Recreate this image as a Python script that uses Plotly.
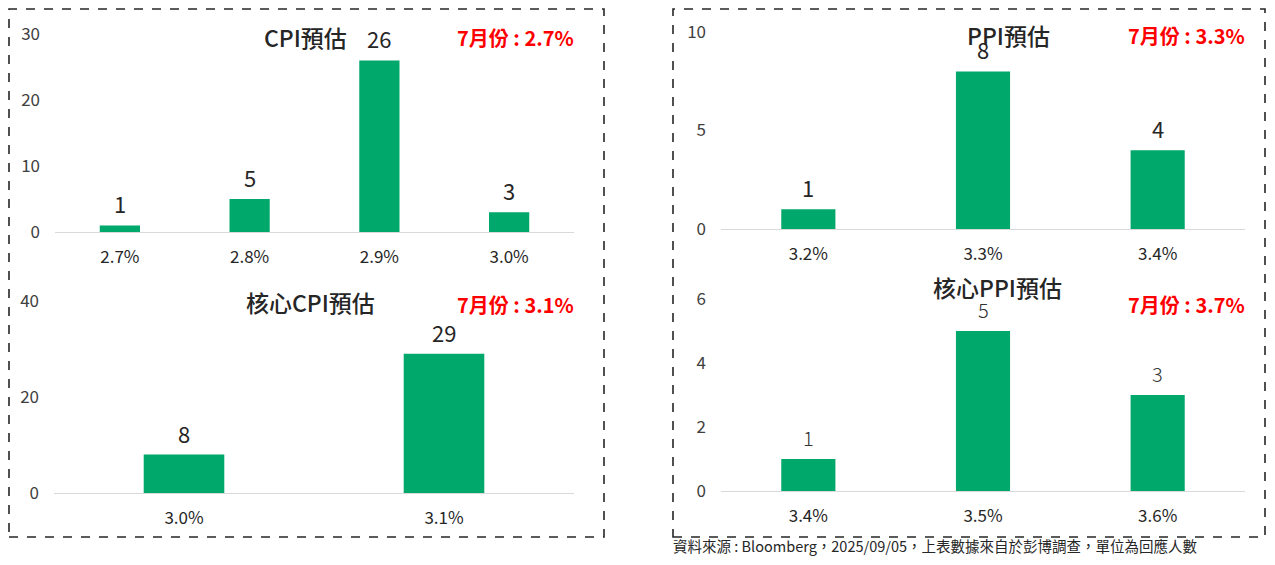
import plotly.graph_objects as go

# 資料
cpi_cats = ["2.7%", "2.8%", "2.9%", "3.0%"]
cpi_vals = [1, 5, 26, 3]
core_cpi_cats = ["3.0%", "3.1%"]
core_cpi_vals = [8, 29]
ppi_cats = ["3.2%", "3.3%", "3.4%"]
ppi_vals = [1, 8, 4]
core_ppi_cats = ["3.4%", "3.5%", "3.6%"]
core_ppi_vals = [1, 5, 3]

titles = ["CPI預估", "核心CPI預估", "PPI預估", "核心PPI預估"]
actuals = ["7月份 : 2.7%", "7月份 : 3.1%", "7月份 : 3.3%", "7月份 : 3.7%"]
source = "資料來源 : Bloomberg，2025/09/05，上表數據來自於彭博調查，單位為回應人數"

OFF = 8  # 頁面 body 的預設邊距
W, H = 1275 - 2 * OFF, 565 - 2 * OFF
GREEN = "#00A86B"
FONT = "Noto Sans CJK TC"


def px(x, y):
    return (x - OFF) / W, 1 - (y - OFF) / H


def xd(x0, x1):
    return [(x0 - OFF) / W, (x1 - OFF) / W]


def yd(top, bottom):
    return [1 - (bottom - OFF) / H, 1 - (top - OFF) / H]


fig = go.Figure()

dark = dict(size=22, color="#262626", family=FONT)
light = dict(size=20, color="#333333", family=FONT, weight=300)
panels = [
    # cats, vals, xaxis, yaxis, xdomain, ydomain, range top, dtick, label font
    (cpi_cats, cpi_vals, "x", "y", xd(55, 574), yd(34, 232), 30, 10, dark),
    (core_cpi_cats, core_cpi_vals, "x2", "y2", xd(54, 574), yd(301, 493), 40, 20, dark),
    (ppi_cats, ppi_vals, "x3", "y3", xd(721, 1245), yd(32, 229), 10, 5, dark),
    (core_ppi_cats, core_ppi_vals, "x4", "y4", xd(721, 1245), yd(299, 491), 6, 2, light),
]

layout_axes = {}
for i, (cats, vals, xa, ya, xdom, ydom, top, dt, lfont) in enumerate(panels):
    fig.add_trace(go.Bar(
        x=cats, y=vals, xaxis=xa, yaxis=ya,
        marker=dict(color=GREEN, line=dict(width=0)),
        showlegend=False, width=0.31, hoverinfo="x+y",
    ))
    # 數值標籤
    for c, v in zip(cats, vals):
        fig.add_annotation(x=c, y=v, xref=xa, yref=ya, text=str(v),
                           showarrow=False, yanchor="middle", yshift=22,
                           font=lfont)
    n = "" if i == 0 else str(i + 1)
    layout_axes["xaxis" + n] = dict(
        domain=xdom, anchor=ya, showgrid=False, showline=True,
        linecolor="#d9d9d9", linewidth=1, ticks="", ticklabelstandoff=10,
        tickfont=dict(size=17, color="#262626", family=FONT), fixedrange=True,
        automargin=False,
    )
    layout_axes["yaxis" + n] = dict(
        domain=ydom, anchor=xa, range=[0, top], dtick=dt, showgrid=False,
        zeroline=False, showline=False, ticks="", ticklabelstandoff=14,
        tickfont=dict(size=17, color="#404040", family=FONT), fixedrange=True,
        automargin=False,
    )

fig.update_layout(**layout_axes)

# 標題與7月份實際值
title_pos = [(305, 37), (310, 302), (1008, 35), (997, 287)]
actual_pos = [(515, 37), (515, 304), (1186, 36), (1186, 304)]
for t, (x, y) in zip(titles, title_pos):
    ax, ay = px(x, y)
    fig.add_annotation(x=ax, y=ay, xref="paper", yref="paper", text=t,
                       showarrow=False, xanchor="center", yanchor="middle",
                       font=dict(size=23, color="#262626", family=FONT, weight=500))
for t, (x, y) in zip(actuals, actual_pos):
    ax, ay = px(x, y)
    fig.add_annotation(x=ax, y=ay, xref="paper", yref="paper", text=t,
                       showarrow=False, xanchor="center", yanchor="middle",
                       font=dict(size=20, color="#FF0000", family=FONT, weight="bold"))

# 資料來源（貼齊圖底）
sx, _ = px(672, 0)
fig.add_annotation(x=sx, y=0, xref="paper", yref="paper", text=source,
                   showarrow=False, xanchor="left", yanchor="bottom",
                   borderpad=0, font=dict(size=14.5, color="#262626", family=FONT))

# 虛線外框（可見範圍內）
for (x0, y0, x1, y1) in [(9, 9, 604, 537), (673, 9, 1265, 537)]:
    ax0, ay1 = px(x0, y0)
    ax1, ay0 = px(x1, y1)
    fig.add_shape(type="rect", xref="paper", yref="paper",
                  x0=ax0, x1=ax1, y0=ay0, y1=ay1,
                  line=dict(color="#262626", width=1.6, dash="dash"))

fig.update_layout(
    width=W, height=H,
    margin=dict(l=0, r=0, t=0, b=0, autoexpand=False),
    paper_bgcolor="white", plot_bgcolor="white",
    bargap=0.69,
    font=dict(family=FONT),
)

fig.write_html("out.html", config={"displayModeBar": False})
